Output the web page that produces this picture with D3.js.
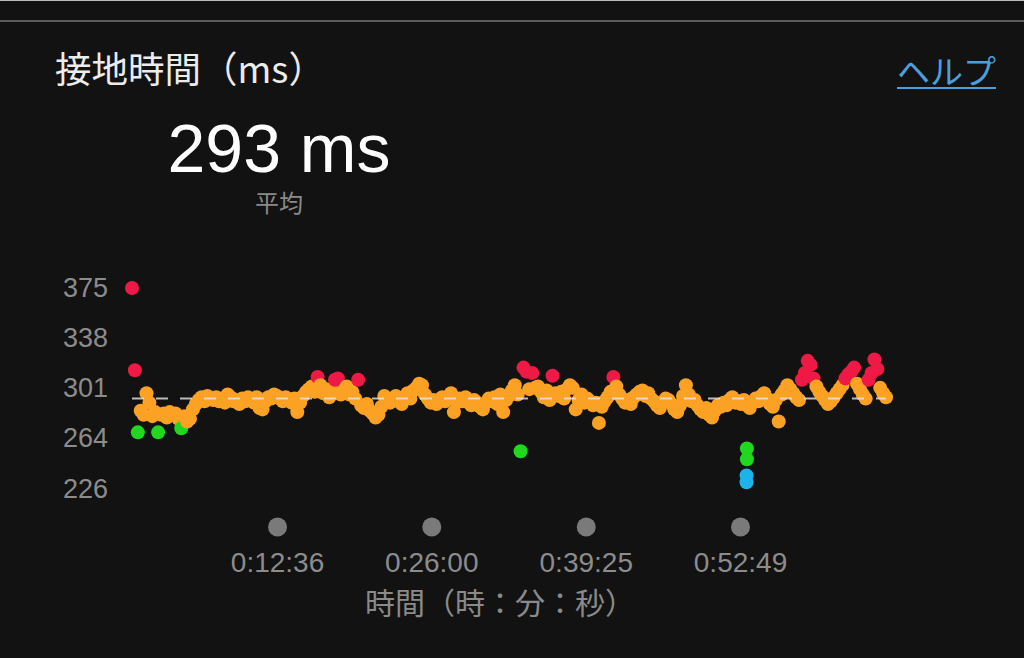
<!DOCTYPE html>
<html>
<head>
<meta charset="utf-8">
<script src="https://cdn.jsdelivr.net/npm/d3@7"></script>
<style>
  html, body { margin: 0; padding: 0; background: #121212; }
  svg { display: block; }
</style>
</head>
<body>
<svg id="chart" width="1024" height="658"></svg>
<script>
// ---- data ----
const titleText = "接地時間（ms）";
const helpText = "ヘルプ";
const averageValue = 293;
const averageLabel = "平均";
const xAxisTitle = "時間（時：分：秒）";

const yTickValues = [375, 338, 301, 264, 226];
const xTickSeconds = [756, 1560, 2365, 3169];
const xTickLabels = ["0:12:36", "0:26:00", "0:39:25", "0:52:49"];
const durationSec = 3930;

// contact-time samples (ms), evenly spaced over the run
const contactTime = [
  375, 314, 268, 284, 281, 297, 290, 280, 283, 268,
  281, 282, 279, 283, 281, 282, 278, 271, 280, 276,
  278, 285, 289, 292, 294, 291, 295, 293, 292, 294,
  291, 293, 290, 296, 294, 291, 292, 289, 293, 291,
  294, 292, 290, 294, 286, 285, 291, 294, 293, 296,
  295, 293, 291, 294, 292, 290, 293, 283, 290, 295,
  298, 300, 302, 298, 309, 303, 297, 300, 294, 299,
  307, 308, 296, 299, 302, 296, 298, 293, 307, 288,
  286, 289, 284, 282, 279, 281, 287, 295, 292, 290,
  293, 295, 291, 289, 294, 297, 293, 299, 301, 304,
  303, 296, 293, 290, 292, 289, 292, 294, 291, 293,
  297, 283, 290, 293, 291, 294, 290, 288, 292, 290,
  287, 285, 290, 293, 291, 294, 289, 296, 283, 292,
  295, 299, 303, 296, 254, 316, 313, 300, 312, 301,
  302, 298, 294, 299, 292, 310, 297, 295, 298, 293,
  300, 303, 301, 285, 292, 296, 290, 293, 291, 288,
  290, 275, 287, 291, 294, 298, 309, 302, 296, 293,
  290, 292, 289, 294, 296, 298, 299, 295, 297, 293,
  291, 288, 286, 290, 293, 292, 289, 285, 283, 288,
  295, 303, 296, 291, 292, 288, 285, 283, 286, 281,
  279, 284, 288, 287, 290, 288, 292, 294, 290, 291,
  289, 292, 288, 286, 290, 293, 291, 295, 297, 293,
  289, 287, 292, 276, 296, 299, 303, 300, 297, 294,
  292, 307, 312, 321, 318, 308, 302, 298, 295, 292,
  289, 291, 294, 297, 300, 303, 308, 311, 313, 316,
  304, 300, 296, 293, 307, 312, 322, 315, 301, 297, 294
];

// a short burst of samples recorded at almost the same moment
const burstSeconds = [3205, 3205, 3203, 3203];
const burstValues = [256, 248, 236, 231];

// ---- zone colours ----
function zoneColor(v) {
  if (v > 305) return "#ee1a45";
  if (v >= 273) return "#fba124";
  if (v >= 241) return "#1fd81f";
  return "#1cb3ea";
}

// ---- build points ----
const n = contactTime.length;
const points = contactTime.map((v, i) => ({ t: i * durationSec / (n - 1), v }));
burstSeconds.forEach((t, i) => points.push({ t, v: burstValues[i] }));

const svg = d3.select("#chart");

// top bar & separator
svg.append("rect").attr("x", 0).attr("y", 0).attr("width", 1024).attr("height", 1).attr("fill", "#bbbbbb");
svg.append("rect").attr("x", 0).attr("y", 20).attr("width", 1024).attr("height", 2).attr("fill", "#5c5c5c");

// scales
const x = d3.scaleLinear().domain([0, durationSec]).range([132, 886]);
const y = d3.scaleLinear().domain([226, 375]).range([489, 288]);

// title
svg.append("text")
  .attr("x", 55).attr("y", 83)
  .attr("fill", "#ececec")
  .attr("font-family", "'Noto Sans CJK JP', sans-serif")
  .attr("font-size", 36.5)
  .text(titleText);

// help link
svg.append("text")
  .attr("x", 996).attr("y", 84)
  .attr("text-anchor", "end")
  .attr("fill", "#4d9fdc")
  .attr("font-family", "'Noto Sans CJK JP', sans-serif")
  .attr("font-size", 33)
  .text(helpText);
svg.append("rect").attr("x", 897).attr("y", 87).attr("width", 99).attr("height", 2).attr("fill", "#4d9fdc");

// big average
svg.append("text")
  .attr("x", 279).attr("y", 172)
  .attr("text-anchor", "middle")
  .attr("fill", "#ffffff")
  .attr("font-family", "'Liberation Sans', Arial, sans-serif")
  .attr("font-size", 68)
  .text(averageValue + " ms");

svg.append("text")
  .attr("x", 279).attr("y", 212)
  .attr("text-anchor", "middle")
  .attr("fill", "#8a8a8a")
  .attr("font-family", "'Noto Sans CJK JP', sans-serif")
  .attr("font-size", 24)
  .text(averageLabel);

// y axis labels
const yAxis = d3.axisLeft(y).tickValues(yTickValues).tickSize(0).tickPadding(0).tickFormat(d3.format("d"));
const gy = svg.append("g").attr("transform", "translate(108,0)").call(yAxis);
gy.select(".domain").remove();
gy.selectAll("text")
  .attr("fill", "#8c8c8c")
  .attr("font-family", "'Liberation Sans', Arial, sans-serif")
  .attr("font-size", 27)
  .attr("dy", "0.33em");

// x axis: circle markers + labels
const xAxis = d3.axisBottom(x).tickValues(xTickSeconds).tickSize(0).tickPadding(0)
  .tickFormat((d, i) => xTickLabels[i]);
const gx = svg.append("g").attr("transform", "translate(0,545)").call(xAxis);
gx.select(".domain").remove();
gx.selectAll(".tick text")
  .attr("fill", "#8c8c8c")
  .attr("font-family", "'Liberation Sans', Arial, sans-serif")
  .attr("font-size", 28)
  .attr("dy", 0)
  .attr("y", 27);
gx.selectAll(".tick").append("ellipse")
  .attr("cx", 0).attr("cy", -18)
  .attr("rx", 9.5).attr("ry", 9.5)
  .attr("fill", "#7a7a7a");

svg.append("text")
  .attr("x", 500).attr("y", 614)
  .attr("text-anchor", "middle")
  .attr("fill", "#8a8a8a")
  .attr("font-family", "'Noto Sans CJK JP', sans-serif")
  .attr("font-size", 30)
  .text(xAxisTitle);

// dots
svg.append("g").selectAll("circle")
  .data(points)
  .join("circle")
  .attr("cx", d => x(d.t))
  .attr("cy", d => y(d.v))
  .attr("r", 7)
  .attr("fill", d => zoneColor(d.v));

// average dashed line
svg.append("line")
  .attr("x1", x(0)).attr("x2", x(durationSec))
  .attr("y1", y(averageValue)).attr("y2", y(averageValue))
  .attr("stroke", "#e6e6e6")
  .attr("stroke-opacity", 0.8)
  .attr("stroke-width", 2)
  .attr("stroke-dasharray", "12,12");
</script>
</body>
</html>
